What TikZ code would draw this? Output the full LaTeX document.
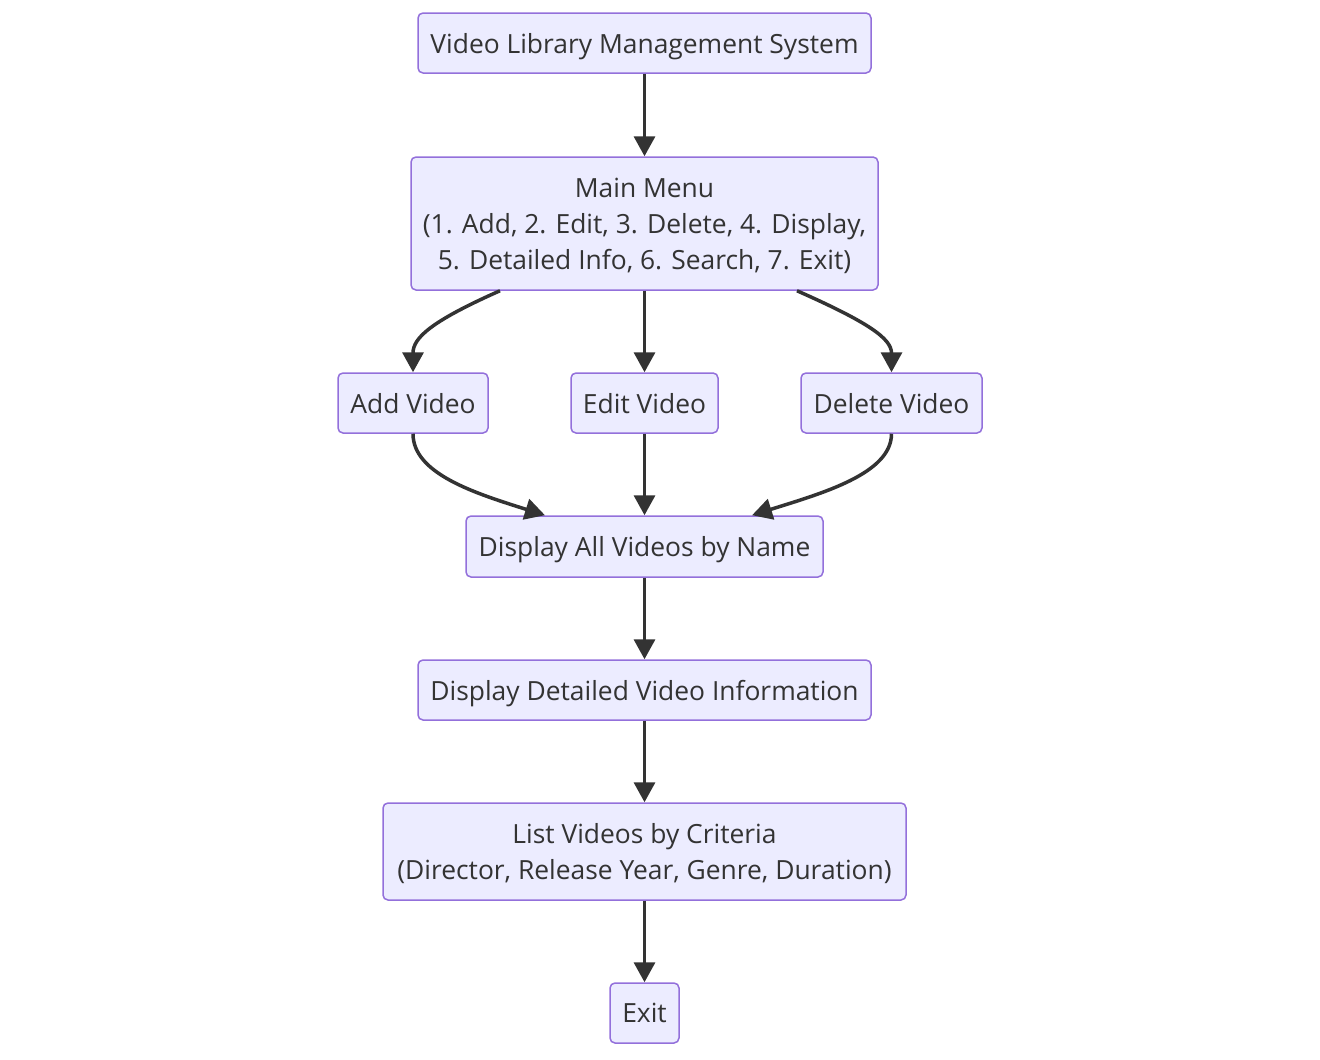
\documentclass[tikz,border=0pt]{standalone}
\usepackage{fontspec}
\setmainfont{Open Sans}
\usepackage{tikz}
\usetikzlibrary{calc,shapes,arrows.meta,positioning}
\definecolor{boxfill}{HTML}{ECECFF}
\definecolor{boxline}{HTML}{9370DB}
\definecolor{ink}{HTML}{333333}
\tikzstyle{box}=[draw=boxline,fill=boxfill,line width=1.5pt,rounded corners=5pt,
  text=ink,font=\fontsize{26.4}{36}\selectfont,align=center,inner sep=0pt,text depth=0pt]
\tikzstyle{arr}=[-{Triangle[length=20pt,width=21pt]},draw=ink,line width=3.5pt]

\begin{document}
\begin{tikzpicture}[x=1pt,y=-1pt]
        \useasboundingbox (0,0) rectangle (1320,1060);
        % boxes
        \node (vlms) [box,minimum width=453pt,minimum height=60pt] at (644.5,43) {Video Library Management System};
        \node (menu) [box,minimum width=467pt,minimum height=133pt] at (644.5,223.5)
          {Main Menu\\(1. Add, 2. Edit, 3. Delete, 4. Display,\\5. Detailed Info, 6. Search, 7. Exit)};
        % middle row
        \node (add) [box,minimum width=150pt,minimum height=60pt] at (413,403) {Add Video};
        \node (edit) [box,minimum width=147pt,minimum height=60pt] at (644.5,403) {Edit Video};
        \node (del) [box,minimum width=181pt,minimum height=60pt] at (891.5,403) {Delete Video};
        % lower boxes
        \node (disp) [box,minimum width=357pt,minimum height=61pt] at (644.5,546.5) {Display All Videos by Name};
        \node (info) [box,minimum width=453pt,minimum height=60pt] at (644.5,690) {Display Detailed Video Information};
        \node (list) [box,minimum width=523pt,minimum height=97pt] at (644.5,851.5)
          {List Videos by Criteria\\(Director, Release Year, Genre, Duration)};
        \node (exit) [box,minimum width=69pt,minimum height=60pt] at (644.5,1013) {Exit};

        \draw[arr] (vlms) -- (menu);
        \draw[arr] ([xshift=-144.5pt]menu.south) .. controls +(-70,31) and +(0,-34) .. (add.north);
        \draw[arr] (menu) -- (edit);
        \draw[arr] ([xshift=152.5pt]menu.south) .. controls +(70,31) and +(0,-34) .. (del.north);
        \draw[arr] (add.south) .. controls +(0,40) and +(-70,-22) .. ([xshift=-99.5pt]disp.north);
        \draw[arr] (edit) -- (disp);
        \draw[arr] (del.south) .. controls +(0,40) and +(70,-22) .. ([xshift=107.5pt]disp.north);
        \draw[arr] (disp) -- (info);
        \draw[arr] (info) -- (list);
        \draw[arr] (list) -- (exit);
      \end{tikzpicture}
\end{document}
